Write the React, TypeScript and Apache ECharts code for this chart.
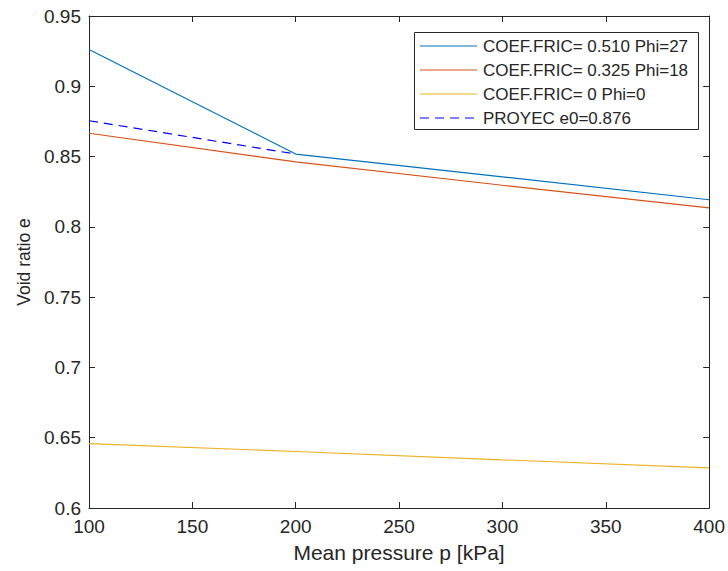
import React, { useEffect, useRef } from "react";
import * as echarts from "echarts";

const pressure = [100, 200, 300, 400];
const fric0510 = [0.9262, 0.8518, 0.8356, 0.8193];
const fric0325 = [0.8666, 0.8462, 0.8296, 0.8135];
const fric0 = [0.6458, 0.6402, 0.6343, 0.6285];
const proyecP = [100, 200];
const proyec = [0.8755, 0.8518];
const xTicks = { min: 100, max: 400, interval: 50 };
const yTicks = { min: 0.6, max: 0.95, interval: 0.05 };
const names = [
  "COEF.FRIC= 0.510 Phi=27",
  "COEF.FRIC= 0.325 Phi=18",
  "COEF.FRIC= 0 Phi=0",
  "PROYEC e0=0.876",
];
const colors = ["#0072BD", "#D95319", "#EDB120", "#0000FF"];

const FONT = "'Liberation Sans', Arial, sans-serif";
const TXT = "#262626";

// legend layout (pixels)
const LEG = { x: 414, y: 32, w: 284, h: 97, lineX0: 420, lineX1: 477, textX: 483, rows: [46, 70, 94, 118] };

export default function App() {
  const ref = useRef<HTMLDivElement>(null);
  useEffect(() => {
    document.body.style.margin = "0";
    const chart = echarts.init(ref.current!, null, { renderer: "svg" });
    const axisLine = { show: true, lineStyle: { color: TXT, width: 1 } };
    const tick = { show: true, inside: true, length: 6, lineStyle: { color: TXT } };
    const pair = (xs: number[], ys: number[]) => xs.map((x, i) => [x, ys[i]]);
    const lineSeries = (i: number, xs: number[], ys: number[], dashed = false) => ({
      name: names[i],
      type: "line",
      data: pair(xs, ys),
      symbol: "none",
      lineStyle: { color: colors[i], width: 1.2, type: dashed ? [9, 6] : "solid" },
      itemStyle: { color: colors[i] },
    });
    const legendEls: any[] = [
      {
        type: "rect",
        shape: { x: LEG.x + 0.5, y: LEG.y + 0.5, width: LEG.w, height: LEG.h },
        style: { fill: "#fff", stroke: TXT, lineWidth: 1 },
        z: 10,
      },
    ];
    names.forEach((n, i) => {
      legendEls.push({
        type: "line",
        shape: { x1: LEG.lineX0, y1: LEG.rows[i], x2: LEG.lineX1, y2: LEG.rows[i] },
        style: { stroke: colors[i], lineWidth: 1.2, lineDash: i === 3 ? [9, 6] : null },
        z: 11,
      });
      legendEls.push({
        type: "text",
        x: LEG.textX,
        y: LEG.rows[i],
        style: { text: n, fill: TXT, font: `17px ${FONT}`, verticalAlign: "middle", align: "left" },
        z: 11,
      });
    });
    chart.setOption({
      animation: false,
      textStyle: { fontFamily: FONT },
      grid: { left: 89, right: 16, top: 16, bottom: 63, containLabel: false },
      xAxis: [
        {
          type: "value",
          min: xTicks.min,
          max: xTicks.max,
          interval: xTicks.interval,
          position: "bottom",
          axisLine,
          axisTick: tick,
          splitLine: { show: false },
          axisLabel: { color: TXT, fontSize: 19, margin: 9, fontFamily: FONT },
          name: "Mean pressure p [kPa]",
          nameLocation: "middle",
          nameGap: 34,
          nameTextStyle: { color: TXT, fontSize: 21, fontFamily: FONT },
        },
        {
          type: "value",
          min: xTicks.min,
          max: xTicks.max,
          interval: xTicks.interval,
          position: "top",
          axisLine,
          axisTick: tick,
          splitLine: { show: false },
          axisLabel: { show: false },
        },
      ],
      yAxis: [
        {
          type: "value",
          min: yTicks.min,
          max: yTicks.max,
          interval: yTicks.interval,
          position: "left",
          axisLine,
          axisTick: tick,
          splitLine: { show: false },
          axisLabel: {
            color: TXT,
            fontSize: 19,
            margin: 8,
            fontFamily: FONT,
            formatter: (v: number) => String(parseFloat(v.toFixed(2))),
          },
          name: "Void ratio e",
          nameLocation: "middle",
          nameGap: 56,
          nameTextStyle: { color: TXT, fontSize: 17.5, fontFamily: FONT },
        },
        {
          type: "value",
          min: yTicks.min,
          max: yTicks.max,
          interval: yTicks.interval,
          position: "right",
          axisLine,
          axisTick: tick,
          splitLine: { show: false },
          axisLabel: { show: false },
        },
      ],
      graphic: { elements: legendEls },
      series: [
        lineSeries(0, pressure, fric0510),
        lineSeries(1, pressure, fric0325),
        lineSeries(2, pressure, fric0),
        lineSeries(3, proyecP, proyec, true),
      ],
    });
    return () => chart.dispose();
  }, []);
  return <div ref={ref} style={{ width: 728, height: 571 }} />;
}
